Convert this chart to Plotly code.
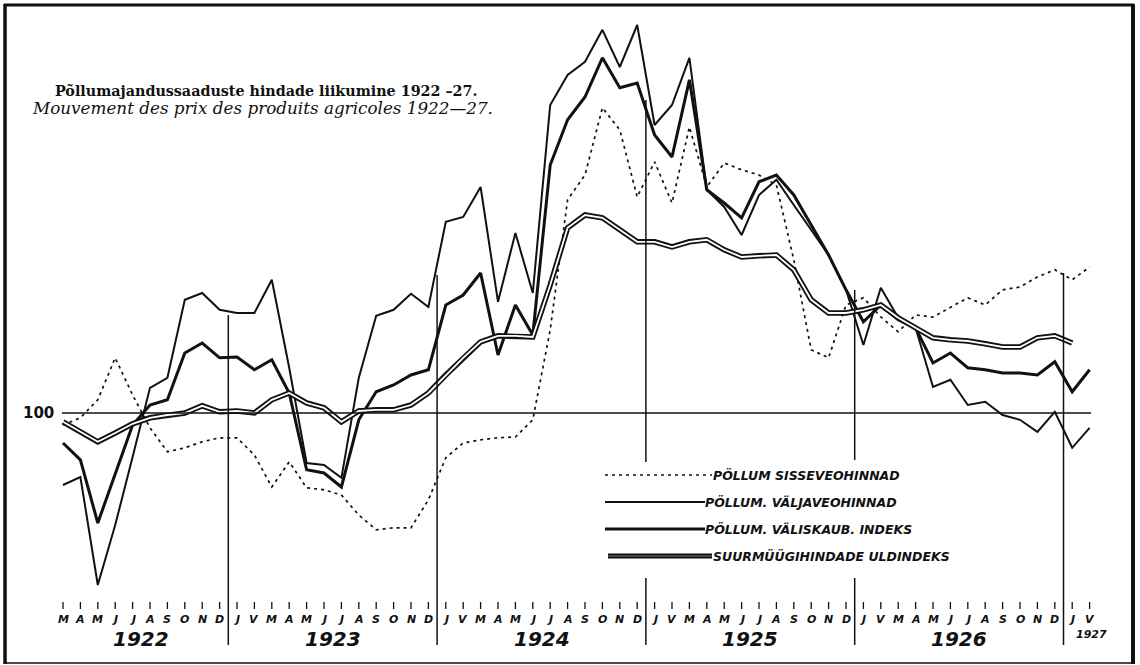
import plotly.graph_objects as go

# ---------------- data (index, base line = 100) ----------------
month_letters = (["M", "A", "M", "J", "J", "A", "S", "O", "N", "D"]
                 + ["J", "V", "M", "A", "M", "J", "J", "A", "S", "O", "N", "D"] * 4
                 + ["J", "V"])
years = [1922] * 10 + [1923] * 12 + [1924] * 12 + [1925] * 12 + [1926] * 12 + [1927] * 2

# Põllum. sisseveohinnad (import prices) – dotted
import_prices = [97.0, 98.8, 103.3, 113.8, 104.5, 96.3, 90.3, 91.3, 92.8, 93.8,
                 93.8, 89.5, 81.5, 87.8, 81.3, 80.8, 79.5, 74.5, 70.8, 71.3,
                 71.3, 78.3, 88.8, 92.5, 93.3, 93.8, 94.0, 98.3, 120.8, 153.3,
                 159.5, 176.3, 170.8, 154.0, 162.8, 152.5, 171.5, 156.5, 162.5, 160.8,
                 159.5, 157.0, 138.3, 115.8, 113.8, 127.0, 128.8, 124.0, 120.3, 124.5,
                 124.0, 126.3, 128.8, 127.0, 130.8, 131.5, 134.0, 135.8, 133.3, 136.5]

# Põllum. väljaveohinnad (export prices) – thin line
export_prices = [82.0, 84.0, 57.0, 72.0, 89.0, 106.3, 108.8, 128.3, 130.0, 125.8,
                 125.0, 125.0, 133.3, 111.3, 87.5, 87.0, 83.8, 108.8, 124.3, 125.8,
                 129.8, 126.5, 147.8, 149.0, 156.5, 127.8, 145.0, 130.0, 177.0, 184.5,
                 187.8, 195.8, 186.5, 197.0, 172.0, 177.0, 188.8, 155.8, 151.5, 144.5,
                 154.5, 158.3, 152.0, 145.8, 139.5, 130.8, 117.0, 131.3, 123.8, 121.3,
                 106.5, 108.3, 102.0, 102.8, 99.5, 98.3, 95.3, 100.3, 91.3, 96.3]

# Põllum. väliskaub. indeks (foreign trade index) – thick line
trade_index = [92.5, 88.3, 72.5, 84.5, 97.0, 102.0, 103.3, 115.0, 117.5, 113.8,
               114.0, 110.8, 113.3, 105.0, 85.8, 85.0, 81.5, 98.3, 105.3, 107.0,
               109.5, 110.8, 127.0, 129.5, 135.0, 114.5, 127.0, 119.5, 162.0, 173.3,
               179.0, 188.8, 181.3, 182.5, 169.5, 164.0, 183.3, 155.8, 152.5, 148.8,
               157.8, 159.5, 154.5, 147.0, 139.5, 130.8, 122.8, 127.0, 123.3, 121.3,
               112.5, 115.0, 111.3, 110.8, 110.0, 110.0, 109.5, 112.8, 105.3, 110.8]

# Suurmüügihindade üldindeks (wholesale general index) – double line
wholesale_index = [97.8, 95.3, 92.8, 95.0, 97.3, 98.8, 99.5, 100.0, 101.8, 100.3,
                   100.5, 100.0, 103.3, 105.0, 102.5, 101.3, 97.8, 100.5, 100.8, 100.8,
                   102.0, 105.0, 109.5, 113.8, 117.8, 119.3, 119.3, 119.0, 132.0, 146.3,
                   149.5, 148.8, 145.8, 142.8, 142.8, 141.5, 142.8, 143.3, 140.8, 139.0,
                   139.3, 139.5, 135.8, 128.3, 125.0, 125.0, 125.8, 127.0, 123.8, 121.3,
                   118.8, 118.3, 118.0, 117.3, 116.5, 116.5, 118.8, 119.3, 117.5]

legend_labels = ["PÖLLUM SISSEVEOHINNAD", "PÖLLUM. VÄLJAVEOHINNAD",
                 "PÖLLUM. VÄLISKAUB. INDEKS", "SUURMÜÜGIHINDADE ULDINDEKS"]
title_et = "Põllumajandussaaduste hindade liikumine 1922 –27."
title_fr = "Mouvement des prix des produits agricoles 1922—27."

# ---------------- geometry helpers (layout only) ----------------
W, H = 1140, 665
X0_PX, DX_PX = 63.0, 17.4       # pixel of first month, pixels per month
BASE_PX, PX_PER_UNIT = 413.0, 4.0


def X(px):
    return (px - X0_PX) / DX_PX


def Y(py):
    return 100 + (BASE_PX - py) / PX_PER_UNIT


months = list(range(len(month_letters)))
INK = "#111111"

fig = go.Figure()
fig.add_trace(go.Scatter(x=months, y=import_prices, mode="lines",
                         line=dict(color=INK, width=1.7, dash="3px,4px")))
fig.add_trace(go.Scatter(x=months, y=export_prices, mode="lines",
                         line=dict(color=INK, width=2)))
fig.add_trace(go.Scatter(x=months, y=trade_index, mode="lines",
                         line=dict(color=INK, width=3)))
wm = months[:len(wholesale_index)]
fig.add_trace(go.Scatter(x=wm, y=wholesale_index, mode="lines",
                         line=dict(color=INK, width=5.5)))
fig.add_trace(go.Scatter(x=wm, y=wholesale_index, mode="lines",
                         line=dict(color="white", width=1.8)))

shapes = []
# 100 base line
shapes.append(dict(type="line", xref="x", yref="y", x0=X(62), x1=X(1091), y0=100, y1=100,
                   line=dict(color=INK, width=1.6)))

# year separators
bounds = [i + 0.5 for i in range(len(years) - 1) if years[i] != years[i + 1]]
sep_spans = [[(315, 645)], [(275, 645)], [(100, 462), (578, 645)],
             [(290, 460), (578, 645)], [(273, 645)]]
for bx, spans in zip(bounds, sep_spans):
    for (t, b) in spans:
        shapes.append(dict(type="line", xref="x", yref="y", x0=bx, x1=bx, y0=Y(t), y1=Y(b),
                           line=dict(color=INK, width=1.5)))

# month ticks
for mi in months:
    shapes.append(dict(type="line", xref="x", yref="y", x0=mi, x1=mi, y0=Y(602), y1=Y(609),
                       line=dict(color=INK, width=1.3)))

# frame
shapes += [
    dict(type="line", xref="x", yref="y", x0=X(4), x1=X(1134), y0=Y(5), y1=Y(5),
         line=dict(color=INK, width=3)),
    dict(type="line", xref="x", yref="y", x0=X(5), x1=X(5), y0=Y(4), y1=Y(664),
         line=dict(color=INK, width=3.5)),
    dict(type="line", xref="x", yref="y", x0=X(1133), x1=X(1133), y0=Y(4), y1=Y(664),
         line=dict(color=INK, width=4)),
    dict(type="line", xref="x", yref="y", x0=X(4), x1=X(1134), y0=Y(663), y1=Y(663),
         line=dict(color=INK, width=1.5)),
]

# legend keys
ky = [475, 502, 529, 556]
shapes.append(dict(type="line", xref="x", yref="y", x0=X(605), x1=X(712), y0=Y(ky[0]), y1=Y(ky[0]),
                   line=dict(color=INK, width=1.7, dash="3px,4px")))
shapes.append(dict(type="line", xref="x", yref="y", x0=X(605), x1=X(705), y0=Y(ky[1]), y1=Y(ky[1]),
                   line=dict(color=INK, width=2)))
shapes.append(dict(type="line", xref="x", yref="y", x0=X(605), x1=X(705), y0=Y(ky[2]), y1=Y(ky[2]),
                   line=dict(color=INK, width=3)))
shapes.append(dict(type="line", xref="x", yref="y", x0=X(608), x1=X(712), y0=Y(ky[3]), y1=Y(ky[3]),
                   line=dict(color=INK, width=5)))
shapes.append(dict(type="line", xref="x", yref="y", x0=X(608), x1=X(712), y0=Y(ky[3]), y1=Y(ky[3]),
                   line=dict(color="#777777", width=1)))

annotations = []
SANS = "DejaVu Sans"
SERIF = "DejaVu Serif"
for lab, y_px, x_px in zip(legend_labels, ky, [711, 703, 703, 711]):
    annotations.append(dict(x=X(x_px), y=Y(y_px), xref="x", yref="y", text="<b><i>" + lab + "</i></b>",
                            showarrow=False, xanchor="left", yanchor="middle",
                            font=dict(family=SANS, size=12.5, color=INK)))

# month letters
for mi, lt in zip(months, month_letters):
    annotations.append(dict(x=mi, y=Y(619), xref="x", yref="y", text="<b><i>" + lt + "</i></b>",
                            showarrow=False, xanchor="center", yanchor="middle",
                            font=dict(family=SANS, size=11, color=INK)))

# year labels
for yr in sorted(set(years)):
    idx = [i for i, v in enumerate(years) if v == yr]
    cx = sum(idx) / len(idx)
    if len(idx) > 2:
        annotations.append(dict(x=cx, y=Y(639), xref="x", yref="y", text="<b><i>%d</i></b>" % yr,
                                showarrow=False, xanchor="center", yanchor="middle",
                                font=dict(family=SANS, size=20, color=INK)))
    else:
        annotations.append(dict(x=cx + 0.6, y=Y(634), xref="x", yref="y", text="<b><i>%d</i></b>" % yr,
                                showarrow=False, xanchor="center", yanchor="middle",
                                font=dict(family=SANS, size=11, color=INK)))

# 100 label
annotations.append(dict(x=X(56), y=100, xref="x", yref="y", text="<b>100</b>", showarrow=False,
                        xanchor="right", yanchor="middle", font=dict(family=SANS, size=15, color=INK)))

# titles
annotations.append(dict(x=X(53), y=Y(91), xref="x", yref="y", text="<b>" + title_et + "</b>",
                        showarrow=False, xanchor="left", yanchor="middle",
                        font=dict(family=SERIF, size=14.3, color=INK)))
annotations.append(dict(x=X(30), y=Y(108), xref="x", yref="y", text="<i>" + title_fr + "</i>",
                        showarrow=False, xanchor="left", yanchor="middle",
                        font=dict(family=SERIF, size=16.8, color=INK)))

fig.update_layout(
    width=W, height=H, autosize=False,
    margin=dict(l=0, r=0, t=0, b=0, pad=0),
    paper_bgcolor="white", plot_bgcolor="white",
    showlegend=False,
    xaxis=dict(range=[X(0), X(W)], visible=False, fixedrange=True),
    yaxis=dict(range=[Y(H), Y(0)], visible=False, fixedrange=True),
    shapes=shapes, annotations=annotations,
)

fig.write_html("out.html", config={"displayModeBar": False},
               post_script="document.body.style.margin='0';document.body.style.overflow='hidden';")
